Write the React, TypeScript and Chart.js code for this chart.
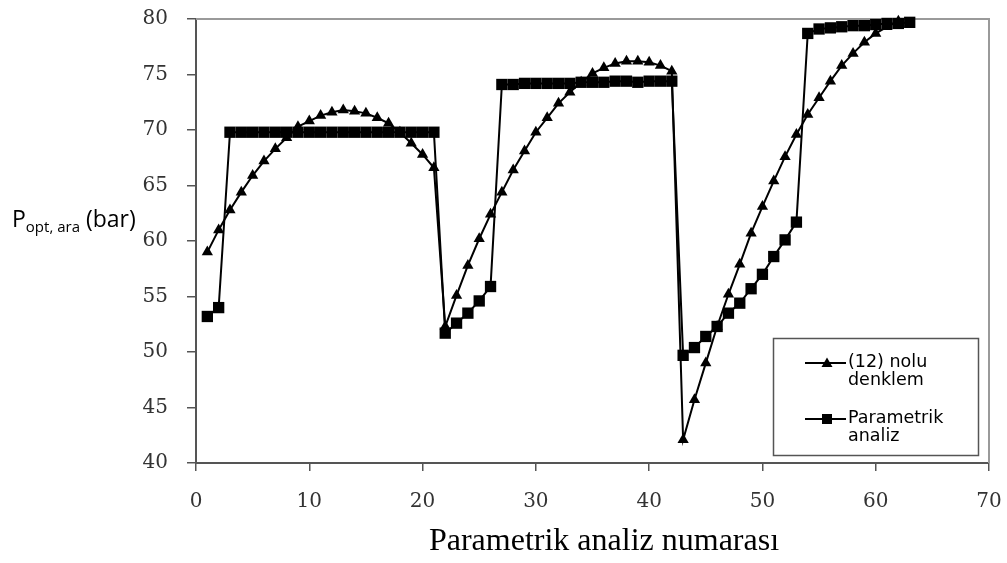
import React, { useEffect, useRef } from "react";
import { Chart, registerables } from "chart.js";

Chart.register(...registerables);

// Analysis numbers (x) and values (y)
const denklemNo = [
  1, 2, 3, 4, 5, 6, 7, 8, 9, 10, 11, 12, 13, 14, 15, 16, 17, 18, 19, 20, 21,
  22, 23, 24, 25, 26, 27, 28, 29, 30, 31, 32, 33, 34, 35, 36, 37, 38, 39, 40, 41, 42,
  43, 44, 45, 46, 47, 48, 49, 50, 51, 52, 53, 54, 55, 56, 57, 58, 59, 60, 61, 62,
];
const denklemValues = [
  59.0, 61.0, 62.8, 64.4, 65.9, 67.2, 68.3, 69.3, 70.3, 70.8, 71.3, 71.6, 71.8, 71.7, 71.5, 71.1, 70.6, 69.8, 68.8, 67.8, 66.6,
  52.3, 55.1, 57.8, 60.2, 62.4, 64.4, 66.4, 68.1, 69.8, 71.1, 72.4, 73.4, 74.3, 75.1, 75.6, 76.0, 76.2, 76.2, 76.1, 75.8, 75.3,
  42.1, 45.7, 49.0, 52.3, 55.2, 57.9, 60.7, 63.1, 65.4, 67.6, 69.6, 71.4, 72.9, 74.4, 75.8, 76.9, 77.9, 78.7, 79.3, 79.8,
];

const parametrikNo = [
  1, 2, 3, 4, 5, 6, 7, 8, 9, 10, 11, 12, 13, 14, 15, 16, 17, 18, 19, 20, 21,
  22, 23, 24, 25, 26, 27, 28, 29, 30, 31, 32, 33, 34, 35, 36, 37, 38, 39, 40, 41, 42,
  43, 44, 45, 46, 47, 48, 49, 50, 51, 52, 53, 54, 55, 56, 57, 58, 59, 60, 61, 62, 63,
];
const parametrikValues = [
  53.2, 54.0, 69.8, 69.8, 69.8, 69.8, 69.8, 69.8, 69.8, 69.8, 69.8, 69.8, 69.8, 69.8, 69.8, 69.8, 69.8, 69.8, 69.8, 69.8, 69.8,
  51.7, 52.6, 53.5, 54.6, 55.9, 74.1, 74.1, 74.2, 74.2, 74.2, 74.2, 74.2, 74.3, 74.3, 74.3, 74.4, 74.4, 74.3, 74.4, 74.4, 74.4,
  49.7, 50.4, 51.4, 52.3, 53.5, 54.4, 55.7, 57.0, 58.6, 60.1, 61.7, 78.7, 79.1, 79.2, 79.3, 79.4, 79.4, 79.5, 79.6, 79.6, 79.7,
];

const seriesNames = ["(12) nolu denklem", "Parametrik analiz"];
const legendLines = [["(12) nolu", "denklem"], ["Parametrik", "analiz"]];
const xTitle = "Parametrik analiz numarası";
const yTitleMain = "P";
const yTitleSub = "opt, ara";
const yTitleUnit = " (bar)";

export default function App() {
  const ref = useRef<HTMLCanvasElement>(null);

  useEffect(() => {
    const canvas = ref.current;
    if (!canvas) return;

    const zeroPad = (s: any) => {
      s.paddingTop = 0;
      s.paddingBottom = 0;
      s.paddingLeft = 0;
      s.paddingRight = 0;
    };

    const overlay = {
      id: "overlay",
      beforeDatasetsDraw(chart: any) {
        const { ctx, chartArea } = chart;
        ctx.save();
        ctx.strokeStyle = "#9a9a9a";
        ctx.lineWidth = 2;
        ctx.beginPath();
        ctx.moveTo(chartArea.left, chartArea.top);
        ctx.lineTo(chartArea.right, chartArea.top);
        ctx.lineTo(chartArea.right, chartArea.bottom);
        ctx.stroke();
        ctx.restore();
      },
      afterDraw(chart: any) {
        const { ctx } = chart;
        ctx.save();
        // y-axis title
        ctx.fillStyle = "#000";
        ctx.textBaseline = "alphabetic";
        ctx.textAlign = "left";
        let x = 12;
        const base = 227;
        ctx.font = "23px 'Open Sans'";
        ctx.fillText(yTitleMain, x, base);
        x += ctx.measureText(yTitleMain).width;
        ctx.font = "15px 'Open Sans'";
        ctx.fillText(yTitleSub, x, base + 5);
        x += ctx.measureText(yTitleSub).width;
        ctx.font = "23px 'Open Sans'";
        ctx.fillText(yTitleUnit, x, base);

        // x-axis title
        ctx.font = "32px 'Liberation Serif'";
        ctx.textAlign = "center";
        ctx.fillText(xTitle, 604, 550);

        // legend
        const lx = 773.5, ly = 338.5, lw = 205, lh = 117;
        ctx.fillStyle = "#fff";
        ctx.fillRect(lx, ly, lw, lh);
        ctx.strokeStyle = "#555";
        ctx.lineWidth = 1.5;
        ctx.strokeRect(lx, ly, lw, lh);
        const rows = [363, 419];
        rows.forEach((ry, i) => {
          ctx.strokeStyle = "#000";
          ctx.lineWidth = 2;
          ctx.beginPath();
          ctx.moveTo(805, ry);
          ctx.lineTo(846, ry);
          ctx.stroke();
          ctx.fillStyle = "#000";
          if (i === 0) {
            ctx.beginPath();
            ctx.moveTo(827, ry - 5.5);
            ctx.lineTo(832.5, ry + 4);
            ctx.lineTo(821.5, ry + 4);
            ctx.closePath();
            ctx.fill();
          } else {
            ctx.fillRect(822, ry - 5, 10, 10);
          }
          ctx.font = "17.5px 'DejaVu Sans'";
          ctx.textAlign = "left";
          ctx.textBaseline = "middle";
          ctx.fillText(legendLines[i][0], 848, ry - 1);
          ctx.fillText(legendLines[i][1], 848, ry + 17.5);
        });
        ctx.restore();
      },
    };

    const chart = new Chart(canvas, {
      type: "line",
      data: {
        datasets: [
          {
            label: seriesNames[1],
            data: parametrikNo.map((n, i) => ({ x: n, y: parametrikValues[i] })),
            borderColor: "#000",
            backgroundColor: "#000",
            borderWidth: 2,
            pointStyle: "rect",
            pointRadius: 8,
            pointBorderWidth: 0,
            tension: 0,
            clip: false,
            order: 0,
          },
          {
            label: seriesNames[0],
            data: denklemNo.map((n, i) => ({ x: n, y: denklemValues[i] })),
            borderColor: "#000",
            backgroundColor: "#000",
            borderWidth: 2,
            pointStyle: "triangle",
            pointRadius: 6.5,
            pointBorderWidth: 0,
            tension: 0,
            clip: false,
            order: 1,
          },
        ],
      },
      options: {
        animation: false,
        responsive: false,
        devicePixelRatio: 1,
        layout: { padding: { top: 19, right: 18, left: 0, bottom: 0 } },
        plugins: { legend: { display: false }, tooltip: { enabled: false }, title: { display: false } },
        scales: {
          x: {
            type: "linear",
            min: 0,
            max: 70,
            afterFit: (s: any) => { s.height = 100; zeroPad(s); },
            ticks: {
              stepSize: 10,
              color: "#333",
              padding: 19,
              font: { family: "'DejaVu Serif'", size: 20 },
              maxRotation: 0,
            },
            grid: { display: true, drawOnChartArea: false, drawTicks: true, tickLength: 8, color: "#555", lineWidth: 1.5 },
            border: { display: true, color: "#555", width: 2 },
          },
          y: {
            min: 40,
            max: 80,
            afterFit: (s: any) => { s.width = 196; zeroPad(s); },
            ticks: {
              stepSize: 5,
              color: "#333",
              padding: 19,
              font: { family: "'DejaVu Serif'", size: 20 },
            },
            grid: { display: true, drawOnChartArea: false, drawTicks: true, tickLength: 9, color: "#555", lineWidth: 1.5 },
            border: { display: true, color: "#555", width: 2 },
          },
        },
      },
      plugins: [overlay],
    });

    return () => chart.destroy();
  }, []);

  return (
    <div style={{ position: "absolute", left: 0, top: 0, width: 1007, height: 563, background: "#fff" }}>
      <canvas ref={ref} width={1007} height={563} style={{ display: "block", width: 1007, height: 563 }} />
    </div>
  );
}
